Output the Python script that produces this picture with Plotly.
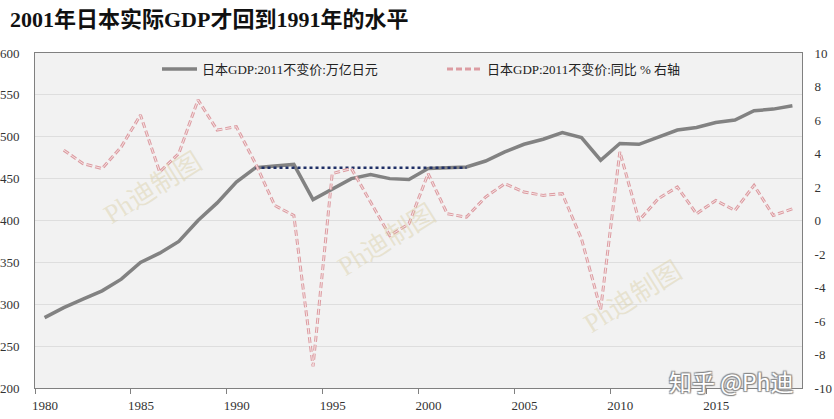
import plotly.graph_objects as go

years = list(range(1980, 2020))
gdp = [284, 296, 306, 316, 330, 350, 361, 375, 400, 421, 446, 463, 465, 467, 425, 438,
       450, 455, 450, 449, 462, 463, 464, 471, 482, 491, 497, 505, 499, 472, 492, 491,
       499, 508, 511, 517, 520, 531, 533, 537]
growth_years = list(range(1981, 2020))
growth = [4.2, 3.4, 3.1, 4.4, 6.3, 2.9, 4.0, 7.2, 5.4, 5.6, 3.4, 0.9, 0.3, -8.7, 2.8,
          3.1, 1.1, -0.9, -0.2, 2.8, 0.4, 0.2, 1.4, 2.2, 1.7, 1.5, 1.6, -1.1, -5.3, 4.1,
          0.0, 1.3, 2.0, 0.4, 1.2, 0.6, 2.1, 0.3, 0.7]
ref_years = list(range(1991, 2003))
ref_level = [gdp[years.index(1991)]] * len(ref_years)

x_tick_years = [1980, 1985, 1990, 1995, 2000, 2005, 2010, 2015]
y2_ticks = [10, 8, 6, 4, 2, 0, -2, -4, -6, -8, -10]

title = "2001年日本实际GDP才回到1991年的水平"
name_gdp = "日本GDP:2011不变价:万亿日元"
name_growth = "日本GDP:2011不变价:同比 % 右轴"

serif = "Liberation Serif, Noto Sans CJK SC, serif"

fig = go.Figure()
fig.add_trace(go.Scatter(x=years, y=gdp, name=name_gdp, mode="lines",
                         line=dict(color="#828282", width=3.5)))
fig.add_trace(go.Scatter(x=growth_years, y=growth, name=name_growth, mode="lines",
                         yaxis="y2", line=dict(color="#dc9ca2", width=3, dash="6px,3px")))
fig.add_trace(go.Scatter(x=growth_years, y=growth, mode="lines", showlegend=False,
                         yaxis="y2", hoverinfo="skip",
                         line=dict(color="#f6e4e4", width=1, dash="6px,3px")))
fig.add_trace(go.Scatter(x=ref_years, y=ref_level, mode="lines", showlegend=False,
                         line=dict(color="#1f2f66", width=2.5, dash="dot")))

PL, PR, PT, PB = 35, 802, 53, 388
PW, PH = PR - PL, PB - PT


def px(x):
    return (x - PL) / PW


def py(y):
    return (PB - y) / PH


annotations = [dict(text=title, x=px(8), y=py(20), xref="paper", yref="paper",
                    showarrow=False, xanchor="left", yanchor="middle",
                    font=dict(family=serif, size=22, color="#111111", weight="bold"))]
for cx, cy in [(153, 188), (387, 240), (633, 297)]:
    annotations.append(dict(text="Ph迪制图", xref="paper", yref="paper",
                            x=px(cx), y=py(cy), showarrow=False, textangle=-32,
                            xanchor="center", yanchor="middle",
                            font=dict(family=serif, size=27, color="rgba(215,205,160,0.42)")))
annotations.append(dict(text="知乎 @Ph迪", xref="paper", yref="paper",
                        x=px(731), y=py(381), showarrow=False,
                        xanchor="center", yanchor="middle", borderpad=0,
                        font=dict(family="Noto Sans CJK SC", size=23, color="#ffffff",
                                  shadow="1px 1px 1px #8a8a8a, -1px -1px 1px #8a8a8a, 1px -1px 1px #8a8a8a, -1px 1px 1px #8a8a8a")))

fig.update_layout(
    width=834, height=419,
    margin=dict(l=PL, r=834 - PR, t=PT, b=419 - PB, autoexpand=False),
    paper_bgcolor="#ffffff",
    plot_bgcolor="#f2f2f2",
    showlegend=True,
    legend=dict(orientation="h", x=px(157), y=py(69),
                xanchor="left", yanchor="middle", bgcolor="rgba(0,0,0,0)",
                entrywidth=235, entrywidthmode="pixels", itemwidth=35,
                font=dict(family=serif, size=13, color="#222222")),
    font=dict(family=serif, size=13, color="#333333"),
    xaxis=dict(range=[1979.5, 2019.5], tickvals=[y - 0.5 for y in x_tick_years],
               ticktext=[str(y) for y in x_tick_years], ticklabelshift=10,
               ticks="outside", ticklen=5, tickcolor="#808080", automargin=False,
               showgrid=False, zeroline=False, showline=True, linecolor="#808080",
               linewidth=1, mirror=True, ticklabelstandoff=0,
               tickfont=dict(family=serif, size=13, color="#333333")),
    yaxis=dict(range=[200, 600], dtick=50, showgrid=True, gridcolor="#dedede",
               gridwidth=1, zeroline=False, showline=True, linecolor="#808080",
               linewidth=1, ticks="", ticklabelstandoff=12, automargin=False,
               tickfont=dict(family=serif, size=13, color="#333333")),
    yaxis2=dict(range=[-10, 10], tickvals=y2_ticks, ticktext=[str(v) for v in y2_ticks],
                overlaying="y", side="right", automargin=False,
                showgrid=False, zeroline=False, showline=True, linecolor="#808080",
                linewidth=1, ticks="", ticklabelstandoff=9,
                tickfont=dict(family=serif, size=13, color="#333333")),
    annotations=annotations,
)
fig.write_html("out.html")
